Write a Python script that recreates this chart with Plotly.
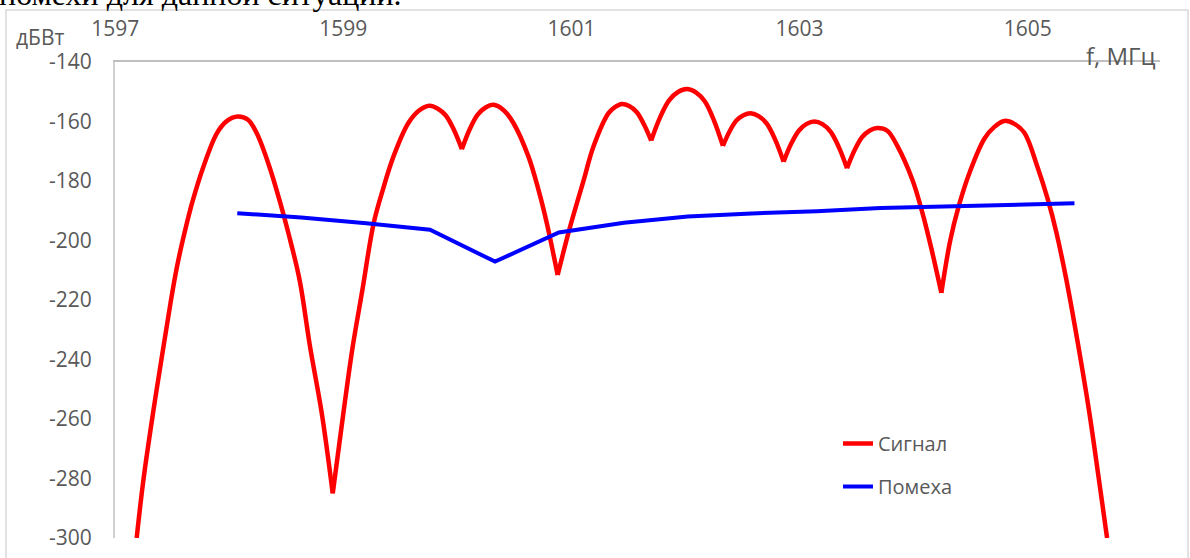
import plotly.graph_objects as go

# ---- data ----
signal_f = [1597.188, 1597.247, 1597.331, 1597.423, 1597.489, 1597.541, 1597.607, 1597.682, 1597.774,
            1597.892, 1597.980, 1598.074, 1598.164, 1598.240, 1598.351, 1598.439, 1598.518, 1598.616,
            1598.708, 1598.811, 1598.907,
            1599.000, 1599.082, 1599.164, 1599.266, 1599.346, 1599.439, 1599.570, 1599.664, 1599.754,
            1599.825, 1599.897, 1599.968, 1600.039,
            1600.108, 1600.178, 1600.247, 1600.316, 1600.403, 1600.491, 1600.623, 1600.711, 1600.784, 1600.879,
            1600.980, 1601.108, 1601.193, 1601.325, 1601.384, 1601.442, 1601.506, 1601.571, 1601.635, 1601.699,
            1601.777, 1601.856, 1601.934, 1602.012, 1602.091, 1602.170, 1602.249, 1602.328,
            1602.388, 1602.448, 1602.508, 1602.568, 1602.641, 1602.714, 1602.787, 1602.860,
            1602.927, 1602.995, 1603.062, 1603.129, 1603.201, 1603.273, 1603.344, 1603.416,
            1603.483, 1603.549, 1603.616, 1603.682, 1603.769, 1603.857, 1603.989, 1604.077, 1604.150, 1604.243,
            1604.322, 1604.396, 1604.489, 1604.620, 1604.708, 1604.796, 1604.883, 1604.971, 1605.085,
            1605.177, 1605.252, 1605.339, 1605.445, 1605.541, 1605.625, 1605.696]
signal_db = [-300.0, -280.5, -258.1, -235.7, -220.0, -208.9, -197.5, -186.3, -175.1,
             -163.9, -159.8, -158.3, -159.4, -163.9, -175.1, -186.3, -197.5, -213.2,
             -235.7, -258.1, -285.0,
             -258.1, -235.7, -217.3, -194.2, -183.0, -171.8, -160.5, -156.3, -154.7,
             -155.6, -157.9, -162.7, -169.3,
             -162.6, -157.7, -155.3, -154.4, -156.1, -160.5, -171.8, -183.0, -194.2, -211.6,
             -196.5, -179.6, -168.4, -157.2, -155.1, -154.1, -154.8, -156.8, -160.9, -166.4,
             -158.6, -152.9, -150.1, -149.1, -150.2, -153.3, -159.6, -168.2,
             -163.2, -159.6, -157.9, -157.2, -158.2, -160.8, -166.2, -173.5,
             -167.4, -163.0, -160.8, -160.0, -160.9, -163.5, -168.6, -175.7,
             -169.6, -165.2, -163.0, -162.2, -163.1, -168.2, -179.6, -190.7, -201.8, -217.6,
             -199.8, -188.4, -177.3, -165.8, -161.8, -159.8, -160.8, -163.8, -175.2,
             -186.3, -197.4, -213.2, -235.7, -258.0, -280.5, -300.0]

noise_f = [1598.07, 1598.63, 1599.20, 1599.76, 1600.33, 1600.89, 1601.46, 1602.02,
           1602.58, 1603.15, 1603.71, 1604.28, 1604.84, 1605.41]
noise_db = [-190.8, -192.3, -194.2, -196.4, -207.1, -197.3, -194.0, -191.9,
            -190.9, -190.2, -189.1, -188.5, -188.0, -187.5]

x_ticks = [1597, 1599, 1601, 1603, 1605]
y_ticks = [-140, -160, -180, -200, -220, -240, -260, -280, -300]
y_tick_labels = ["-140", "-160", "-180", "-200", "-220", "-240", "-260", "-280", "-300"]

# ---- split the signal at its local minima (nulls) so cusps stay sharp ----
segments = []
start = 0
for i in range(1, len(signal_db) - 1):
    if signal_db[i] < signal_db[i - 1] and signal_db[i] < signal_db[i + 1]:
        segments.append((start, i))
        start = i
segments.append((start, len(signal_db) - 1))

fig = go.Figure()
for k, (a, b) in enumerate(segments):
    fig.add_trace(go.Scatter(
        x=signal_f[a:b + 1], y=signal_db[a:b + 1], mode="lines",
        line=dict(color="#FF0000", width=4.5, shape="spline", smoothing=1.0),
        name="Сигнал", legendgroup="sig", showlegend=(k == 0), hoverinfo="skip"))

fig.add_trace(go.Scatter(
    x=noise_f, y=noise_db, mode="lines",
    line=dict(color="#0000FF", width=4),
    name="Помеха", legendgroup="noise"))

axis_font = dict(family="Open Sans, Noto Sans, sans-serif", size=21, color="#595959")

L, R, T, B = 115, 30, 62, 20
W, H = 1190, 558
pw, ph = W - L - R, H - T - B


def px_x(px):
    return (px - L) / pw


def px_y(py):
    return (H - B - py) / ph


fig.update_layout(
    width=W, height=H,
    margin=dict(l=L, r=R, t=T, b=B, autoexpand=False),
    paper_bgcolor="white", plot_bgcolor="white",
    font=axis_font,
    showlegend=True,
    legend=dict(x=px_x(838), y=px_y(424), xanchor="left", yanchor="top",
                font=dict(family="Open Sans, Noto Sans, sans-serif", size=20, color="#595959"),
                bgcolor="rgba(0,0,0,0)", tracegroupgap=14, traceorder="grouped"),
    xaxis=dict(side="top", range=[1596.998, 1606.16], tickvals=x_ticks,
               showline=True, linecolor="#BFBFBF", linewidth=2, showgrid=False,
               zeroline=False, ticks="", ticklabelstandoff=16, tickfont=axis_font,
               automargin=False),
    yaxis=dict(range=[-300, -140], tickvals=y_ticks, ticktext=y_tick_labels,
               showline=True, linecolor="#D0D0D0", linewidth=2, showgrid=False,
               zeroline=False, ticks="", ticklabelstandoff=17, tickfont=axis_font,
               automargin=False),
)

# chart frame
fig.add_shape(type="rect", xref="paper", yref="paper",
              x0=px_x(6), x1=px_x(1188), y0=px_y(600), y1=px_y(10),
              line=dict(color="#D9D9D9", width=1.5), layer="below")

fig.add_annotation(text="дБВт", xref="paper", yref="paper", x=px_x(40), y=px_y(37),
                   showarrow=False, xanchor="center", yanchor="middle", font=axis_font)
fig.add_annotation(text="f, МГц", xref="paper", yref="paper", x=px_x(1121), y=px_y(55),
                   showarrow=False, xanchor="center", yanchor="middle",
                   font=dict(family="Open Sans, Noto Sans, sans-serif", size=24, color="#595959"))
fig.add_annotation(text="помехи для данной ситуации.", xref="paper", yref="paper",
                   x=px_x(-3), y=px_y(14), showarrow=False, xanchor="left", yanchor="bottom",
                   font=dict(family="Liberation Serif, Times New Roman, serif", size=32, color="black"))

fig.write_html("out.html", config={"displayModeBar": False},
               post_script="document.body.style.margin='0';")
